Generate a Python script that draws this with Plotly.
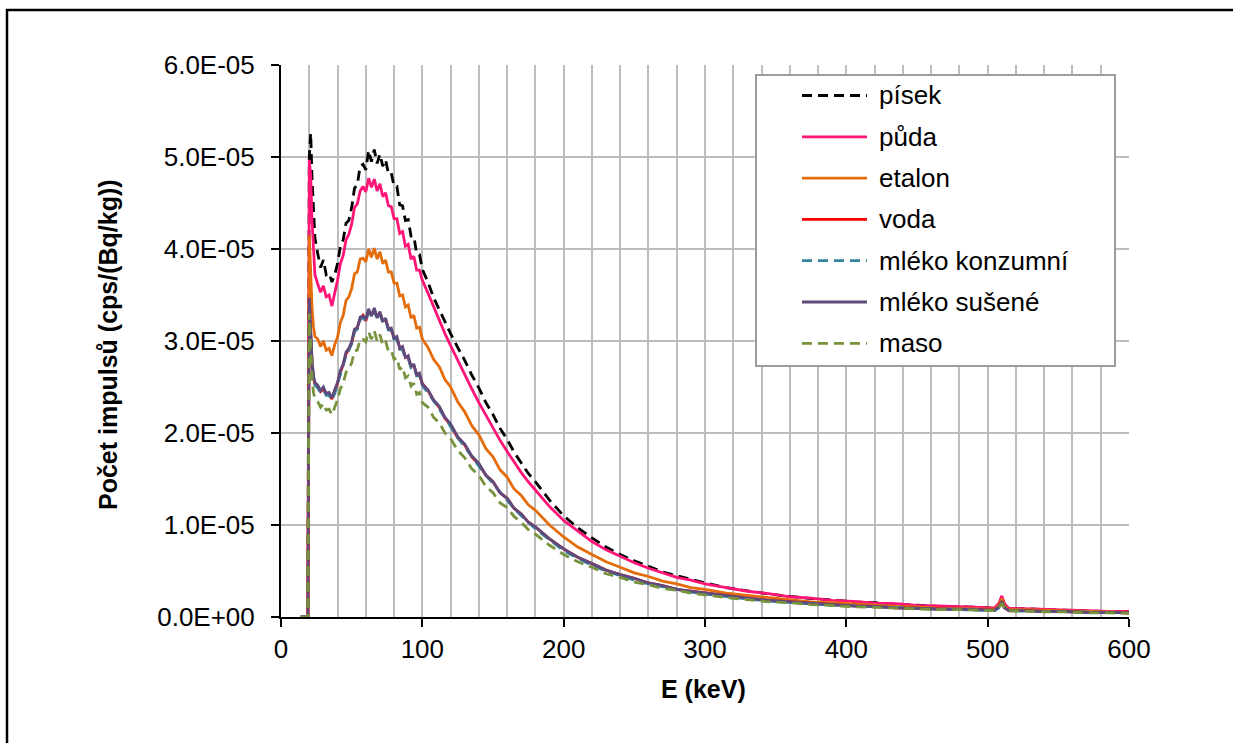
import plotly.graph_objects as go

# ---------------- data (values in units of 1E-05 cps/(Bq/kg)) ----------------
energy_kev = [14, 18, 19, 20, 21, 22, 23, 24,
              26, 28, 30, 32, 34, 36, 38, 40, 42, 44, 46, 48,
              50, 52, 54, 56, 58, 60, 62, 64, 66, 68, 70, 72, 74, 76, 78, 80, 82, 84, 86, 88, 90, 92, 94, 96, 98, 100,
              104, 108, 112, 116, 120,
              125, 130, 135, 140, 145, 150, 155, 160, 165, 170, 175, 180,
              190, 200, 210, 220, 230, 240, 250, 260, 270, 280, 290, 300,
              315, 330, 345, 360, 375, 390, 405, 420, 435, 450, 465, 480, 495,
              505, 508, 510, 512, 515,
              525, 540, 555, 570, 585, 600]

pisek = [0, 0, 0, 5.00, 5.26, 4.75, 4.40, 4.12,
         3.95, 3.80, 3.88, 3.72, 3.74, 3.64, 3.72, 3.84, 4.03, 4.10, 4.28, 4.31,
         4.45, 4.66, 4.70, 4.90, 4.92, 4.86, 5.07, 4.95, 5.08, 4.93, 5.03, 4.90, 4.97, 4.82, 4.83, 4.68, 4.68, 4.48, 4.47, 4.31, 4.32, 4.14, 4.14, 3.95, 3.94, 3.78,
         3.64, 3.47, 3.34, 3.20, 3.08,
         2.93, 2.79, 2.63, 2.49, 2.33, 2.20, 2.05, 1.93, 1.79, 1.68, 1.56, 1.47,
         1.27, 1.10, 0.97, 0.86, 0.76, 0.68, 0.61, 0.55, 0.49, 0.45, 0.41, 0.37,
         0.32, 0.285, 0.25, 0.225, 0.20, 0.185, 0.165, 0.155, 0.14, 0.13, 0.115, 0.11, 0.10,
         0.10, 0.14, 0.22, 0.13, 0.09,
         0.09, 0.08, 0.075, 0.065, 0.06, 0.055]

puda = [0, 0, 0, 4.97, 4.80, 4.30, 3.95, 3.72,
        3.62, 3.53, 3.60, 3.48, 3.50, 3.38, 3.52, 3.66, 3.84, 3.93, 4.10, 4.16,
        4.27, 4.45, 4.49, 4.63, 4.68, 4.62, 4.77, 4.67, 4.76, 4.63, 4.71, 4.57, 4.61, 4.47, 4.46, 4.33, 4.33, 4.17, 4.19, 4.03, 4.05, 3.89, 3.92, 3.77, 3.77, 3.66,
        3.52, 3.37, 3.22, 3.08, 2.95,
        2.79, 2.63, 2.48, 2.33, 2.19, 2.05, 1.92, 1.80, 1.68, 1.57, 1.47, 1.38,
        1.20, 1.05, 0.93, 0.82, 0.73, 0.66, 0.59, 0.53, 0.48, 0.43, 0.40, 0.36,
        0.32, 0.28, 0.255, 0.22, 0.205, 0.18, 0.17, 0.15, 0.145, 0.125, 0.12, 0.11, 0.105,
        0.10, 0.15, 0.23, 0.14, 0.095,
        0.09, 0.085, 0.075, 0.07, 0.06, 0.06]

etalon = [0, 0, 0, 4.15, 3.70, 3.35, 3.15, 3.05,
          3.02, 2.94, 3.00, 2.90, 2.92, 2.84, 2.96, 3.04, 3.20, 3.28, 3.44, 3.48,
          3.57, 3.73, 3.75, 3.89, 3.90, 3.86, 4.00, 3.91, 4.01, 3.89, 3.97, 3.84, 3.88, 3.75, 3.75, 3.63, 3.63, 3.49, 3.50, 3.37, 3.39, 3.25, 3.28, 3.14, 3.15, 3.02,
          2.93, 2.80, 2.72, 2.58, 2.50,
          2.34, 2.23, 2.08, 1.98, 1.83, 1.74, 1.60, 1.52, 1.39, 1.32, 1.22, 1.16,
          1.00, 0.87, 0.76, 0.68, 0.60, 0.54, 0.48, 0.44, 0.39, 0.36, 0.32, 0.30,
          0.26, 0.235, 0.21, 0.185, 0.165, 0.155, 0.14, 0.13, 0.115, 0.11, 0.095, 0.09, 0.085,
          0.085, 0.13, 0.20, 0.12, 0.08,
          0.08, 0.07, 0.065, 0.06, 0.055, 0.05]

voda = [0, 0, 0, 3.44, 3.02, 2.76, 2.60, 2.53,
        2.50, 2.45, 2.48, 2.42, 2.42, 2.37, 2.45, 2.54, 2.66, 2.74, 2.86, 2.91,
        2.98, 3.11, 3.15, 3.24, 3.28, 3.22, 3.33, 3.28, 3.34, 3.26, 3.30, 3.22, 3.23, 3.14, 3.12, 3.04, 3.03, 2.93, 2.92, 2.83, 2.82, 2.73, 2.73, 2.64, 2.63, 2.54,
        2.46, 2.35, 2.28, 2.16, 2.09,
        1.95, 1.87, 1.74, 1.66, 1.54, 1.47, 1.35, 1.29, 1.18, 1.12, 1.03, 0.98,
        0.85, 0.74, 0.65, 0.58, 0.51, 0.46, 0.42, 0.37, 0.34, 0.30, 0.28, 0.26,
        0.23, 0.205, 0.18, 0.165, 0.145, 0.135, 0.12, 0.115, 0.10, 0.095, 0.085, 0.08, 0.08,
        0.075, 0.11, 0.17, 0.10, 0.07,
        0.07, 0.06, 0.06, 0.05, 0.05, 0.045]

mleko_konzumni = [0, 0, 0, 3.40, 3.00, 2.75, 2.60, 2.52,
                  2.49, 2.44, 2.47, 2.41, 2.41, 2.36, 2.43, 2.53, 2.64, 2.73, 2.84, 2.90,
                  2.97, 3.10, 3.13, 3.23, 3.26, 3.21, 3.32, 3.26, 3.33, 3.24, 3.29, 3.20, 3.22, 3.12, 3.11, 3.02, 3.02, 2.91, 2.91, 2.81, 2.81, 2.71, 2.72, 2.62, 2.62, 2.52,
                  2.44, 2.35, 2.26, 2.16, 2.07,
                  1.95, 1.85, 1.74, 1.64, 1.54, 1.45, 1.35, 1.27, 1.18, 1.10, 1.03, 0.96,
                  0.84, 0.72, 0.64, 0.56, 0.50, 0.45, 0.40, 0.36, 0.33, 0.30, 0.27, 0.25,
                  0.22, 0.195, 0.175, 0.155, 0.14, 0.13, 0.12, 0.11, 0.10, 0.09, 0.085, 0.08, 0.075,
                  0.07, 0.10, 0.16, 0.10, 0.07,
                  0.065, 0.06, 0.055, 0.05, 0.045, 0.045]

mleko_susene = [0, 0, 0, 3.47, 3.05, 2.78, 2.62, 2.55,
                2.52, 2.46, 2.50, 2.43, 2.44, 2.38, 2.47, 2.55, 2.68, 2.75, 2.88, 2.92,
                2.99, 3.13, 3.14, 3.26, 3.27, 3.24, 3.35, 3.27, 3.36, 3.25, 3.32, 3.21, 3.25, 3.13, 3.14, 3.03, 3.05, 2.92, 2.94, 2.82, 2.84, 2.72, 2.75, 2.63, 2.65, 2.53,
                2.47, 2.36, 2.29, 2.17, 2.10,
                1.96, 1.88, 1.75, 1.67, 1.54, 1.47, 1.35, 1.29, 1.18, 1.12, 1.03, 0.98,
                0.85, 0.74, 0.65, 0.58, 0.51, 0.46, 0.42, 0.37, 0.34, 0.30, 0.28, 0.26,
                0.23, 0.205, 0.18, 0.165, 0.145, 0.135, 0.12, 0.115, 0.10, 0.095, 0.085, 0.085, 0.075,
                0.075, 0.11, 0.17, 0.10, 0.07,
                0.07, 0.06, 0.06, 0.05, 0.05, 0.045]

maso = [0, 0, 0, 3.30, 2.85, 2.58, 2.44, 2.37,
        2.34, 2.28, 2.32, 2.25, 2.26, 2.20, 2.28, 2.36, 2.48, 2.54, 2.66, 2.70,
        2.76, 2.89, 2.90, 3.02, 3.02, 2.99, 3.10, 3.02, 3.11, 3.00, 3.07, 2.96, 3.00, 2.89, 2.90, 2.80, 2.82, 2.69, 2.72, 2.60, 2.62, 2.51, 2.54, 2.42, 2.44, 2.33,
        2.28, 2.17, 2.11, 2.00, 1.94,
        1.81, 1.73, 1.61, 1.54, 1.42, 1.35, 1.24, 1.19, 1.09, 1.03, 0.95, 0.90,
        0.78, 0.68, 0.60, 0.54, 0.47, 0.43, 0.38, 0.35, 0.31, 0.29, 0.26, 0.24,
        0.21, 0.19, 0.165, 0.155, 0.135, 0.125, 0.11, 0.105, 0.095, 0.09, 0.08, 0.08, 0.07,
        0.07, 0.10, 0.15, 0.09, 0.065,
        0.065, 0.055, 0.055, 0.045, 0.045, 0.04]

series_names = ["písek", "půda", "etalon", "voda", "mléko konzumní", "mléko sušené", "maso"]
series_values = [pisek, puda, etalon, voda, mleko_konzumni, mleko_susene, maso]
series_colors = ["#000000", "#ff1477", "#e46c0a", "#ff0000", "#31849b", "#604a7b", "#77933c"]
series_dash = ["10px,6px", "solid", "solid", "solid", "10px,6px", "solid", "10px,6px"]

x_tick_vals = [0, 100, 200, 300, 400, 500, 600]
y_tick_vals = [0, 1e-5, 2e-5, 3e-5, 4e-5, 5e-5, 6e-5]
y_tick_text = ["0.0E+00", "1.0E-05", "2.0E-05", "3.0E-05", "4.0E-05", "5.0E-05", "6.0E-05"]

x_title = "E (keV)"
y_title = "Počet impulsů (cps/(Bq/kg))"

UNIT = 1e-5  # values above are stored in units of 1E-05

# ---------------- layout geometry ----------------
W, H = 1234, 743
PL, PR, PT, PB = 281, 1129, 65, 617  # plot area in pixels
FONT = "Liberation Sans, Arial, sans-serif"
GRID = "#bdbdbd"
LW = 2.8


def px(x):
    return (x - PL) / (PR - PL)


def py(y):
    return (PB - y) / (PB - PT)


fig = go.Figure()
for name, vals, col, dash in zip(series_names, series_values, series_colors, series_dash):
    fig.add_trace(go.Scatter(
        x=energy_kev, y=[v * UNIT for v in vals], name=name, mode="lines",
        line=dict(color=col, width=LW, dash=dash), showlegend=False,
    ))

shapes = []
annotations = []

# outer chart border: drawn as one path (left edge + top edge only)
border_path = "M {x0},{y0} L {x0},{y1} L {x2},{y1}".format(
    x0=px(7), y0=py(H), y1=py(10), x2=px(W - 1))
shapes.append(dict(type="path", xref="paper", yref="paper", path=border_path,
                   line=dict(color="black", width=2.5)))

# custom legend
LX0, LX1, LY0, LY1 = 756, 1115, 75, 366
shapes.append(dict(type="rect", xref="paper", yref="paper", x0=px(LX0), x1=px(LX1), y0=py(LY0), y1=py(LY1),
                   line=dict(color="#9c9c9c", width=2), fillcolor="white", layer="above"))
row0, step = 95.5, 41.3
for i, (name, col, dash) in enumerate(zip(series_names, series_colors, series_dash)):
    yy = row0 + i * step
    shapes.append(dict(type="line", xref="paper", yref="paper", x0=px(802), x1=px(867), y0=py(yy), y1=py(yy),
                       line=dict(color=col, width=LW, dash=dash), layer="above"))
    annotations.append(dict(text=name, xref="paper", yref="paper", x=px(877), y=py(yy),
                            xanchor="left", yanchor="middle", showarrow=False,
                            font=dict(family=FONT, size=26, color="black")))

# axis titles
annotations.append(dict(text="<b>" + x_title + "</b>", xref="paper", yref="paper", x=px(703), y=py(689),
                        xanchor="center", yanchor="middle", showarrow=False,
                        font=dict(family=FONT, size=25, color="black")))
annotations.append(dict(text="<b>" + y_title + "</b>", xref="paper", yref="paper", x=px(108), y=py(345),
                        xanchor="center", yanchor="middle", showarrow=False, textangle=-90,
                        font=dict(family=FONT, size=25, color="black")))

fig.update_layout(
    width=W, height=H,
    margin=dict(l=PL, r=W - PR, t=PT, b=H - PB, pad=0),
    paper_bgcolor="white", plot_bgcolor="white",
    font=dict(family=FONT, size=26, color="black"),
    showlegend=False,
    shapes=shapes, annotations=annotations,
    xaxis=dict(range=[0, 600], tickvals=x_tick_vals, ticks="outside", ticklen=8, tickwidth=2,
               tickcolor="black", showline=True, linecolor="black", linewidth=2,
               showgrid=True, gridcolor=GRID, gridwidth=2, zeroline=False,
               minor=dict(dtick=20, tick0=0, showgrid=True, gridcolor=GRID, gridwidth=2, ticks=""),
               tickfont=dict(family=FONT, size=26, color="black")),
    yaxis=dict(range=[0, 6e-5], tickvals=y_tick_vals, ticktext=y_tick_text, ticks="outside", ticklen=8,
               tickwidth=2, tickcolor="black", showline=True, linecolor="black", linewidth=2,
               showgrid=True, gridcolor=GRID, gridwidth=2, zeroline=False, ticklabelstandoff=11,
               tickfont=dict(family=FONT, size=26, color="black")),
)

fig.write_html("out.html")
